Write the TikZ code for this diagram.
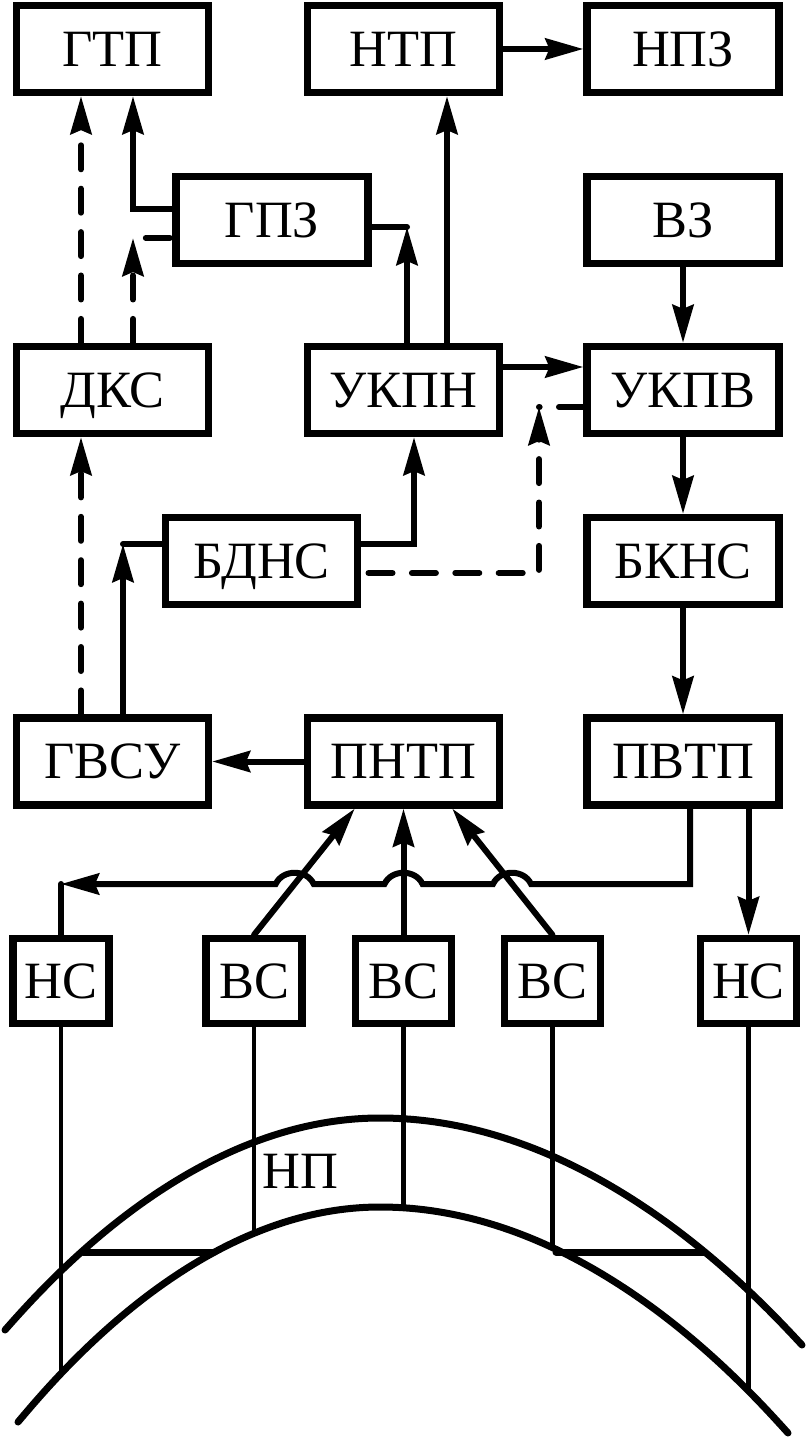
\documentclass[tikz,border=0pt]{standalone}
\usepackage{fontspec}
\setmainfont{Liberation Serif}
\newfontfamily\schemefont{Liberation Serif}
\usetikzlibrary{arrows.meta}

\tikzset{
    unitbox/.style={draw, line width=3.6pt, minimum width=96pt, minimum height=43.5pt,
        inner sep=0pt, text height=17.3pt, text depth=0pt,
        font=\schemefont\fontsize{26.2pt}{30pt}\selectfont},
    wellbox/.style={unitbox, minimum width=48pt, minimum height=42.5pt},
    flow/.style={line width=3pt, line cap=round, ->},
    link/.style={line width=3pt, line cap=round},
    gas/.style={dash pattern=on 12pt off 9.7pt},
    layer/.style={line width=3.5pt, line cap=round},
    bore/.style={line width=2.25pt}
}

\begin{document}
\begin{tikzpicture}[x=0.5pt,y=-0.5pt,>={Stealth[length=19pt,width=10.5pt,inset=2pt]}]
        \useasboundingbox (0,0) rectangle (806,1438);

        \node [unitbox] (gtp) at (112.5,49) {ГТП};
        \node [unitbox] (ntp) at (403.5,49) {НТП};
        \node [unitbox] (npz) at (683,49) {НПЗ};
        \node [unitbox] (gpz) at (272,220) {ГПЗ};
        \node [unitbox] (vz) at (683,220) {ВЗ};
        \node [unitbox] (dks) at (112.5,390) {ДКС};
        \node [unitbox] (ukpn) at (403.5,390) {УКПН};
        \node [unitbox] (ukpv) at (683,390) {УКПВ};
        \node [unitbox] (bdns) at (261.5,561) {БДНС};
        \node [unitbox] (bkns) at (683,561) {БКНС};
        \node [unitbox] (gvsu) at (112.5,761.5) {ГВСУ};
        \node [unitbox] (pntp) at (403.5,761.5) {ПНТП};
        \node [unitbox] (pvtp) at (683,761.5) {ПВТП};

        \node [wellbox] (ns1) at (61,981) {НС};
        \node [wellbox] (vs1) at (254,981) {ВС};
        \node [wellbox] (vs2) at (403.5,981) {ВС};
        \node [wellbox] (vs3) at (552.5,981) {ВС};
        \node [wellbox] (ns2) at (748.5,981) {НС};

        \coordinate (bgtp) at (133,209);
        \coordinate (bgpz) at (407,227);
        \coordinate (bdks) at (133,238);
        \coordinate (xgas) at (81,600);
        \coordinate (xntp) at (447,200);
        \coordinate (yukpv) at (540,367);
        \coordinate (bukpn) at (414,544);
        \coordinate (bbdns) at (123,544);
        \coordinate (gas1) at (539,573);
        \coordinate (gas2) at (539,407);
        \coordinate (bpvtp) at (690,884);
        \coordinate (bns) at (61,884);

        % oil and water
        \draw [flow] (ntp) -- (npz);
        \draw [flow] (ukpn.north -| xntp) -- (ntp.south -| xntp);
        \draw [flow] (ukpn.north -| bgpz) -- (bgpz);
        \draw [link] (bgpz) -- (gpz.east |- bgpz);
        \draw [flow] (gpz.west |- bgtp) -- (bgtp) -- (gtp.south -| bgtp);
        \draw [flow] (vz) -- (ukpv);
        \draw [flow] (ukpn.east |- yukpv) -- (ukpv.west |- yukpv);
        \draw [flow] (ukpv) -- (bkns);
        \draw [flow] (bkns) -- (pvtp);
        \draw [flow] (bdns.east |- bukpn) -- (bukpn) -- (ukpn.south -| bukpn);
        \draw [flow] (gvsu.north -| bbdns) -- (bbdns);
        \draw [link] (bbdns) -- (bdns.west |- bbdns);
        \draw [flow] (pntp) -- (gvsu);
        \draw [flow] (vs1.north) -- (pntp.224);
        \draw [flow] (vs2) -- (pntp);
        \draw [flow] (vs3.north) -- (pntp.316);
        \draw [flow] (pvtp.south -| ns2) -- (ns2);
        \draw [flow] (pvtp.south -| bpvtp) -- (bpvtp)
            -- (531,884) .. controls (524,869) and (500,869) .. (493,884)
            -- (422.5,884) .. controls (415.5,869) and (391.5,869) .. (384.5,884)
            -- (313.7,884) .. controls (306.7,869) and (282.7,869) .. (275.7,884)
            -- (bns);
        \draw [link] (bns) -- (ns1);

        % gas
        \draw [flow,gas] (dks.north -| xgas) -- (gtp.south -| xgas);
        \draw [flow,gas] (dks.north -| bdks) -- (bdks);
        \draw [link,gas,dash phase=15.3pt] (bdks) -- (gpz.west |- bdks);
        \draw [flow,gas] (gvsu.north -| xgas) -- (dks.south -| xgas);
        \draw [flow,gas,dash phase=18pt] (bdns.east |- gas1) -- (gas1) -- (gas2);
        \draw [link,gas,dash phase=11.7pt] (gas2) -- (ukpv.west |- gas2);

        % reservoir
        \draw [layer] (5,1330) parabola bend (380,1118) (802,1345);
        \draw [layer] (18,1422) parabola bend (380,1207) (788,1433);
        \draw [layer] (83,1252) -- (214,1252);
        \draw [layer] (556,1252) -- (704,1252);
        \draw [bore] (ns1.south) -- +(0,347);
        \draw [bore] (vs1.south) -- +(0,206);
        \draw [bore] (vs2.south) -- +(0,181);
        \draw [bore] (vs3.south) -- +(0,220);
        \draw [bore] (ns2.south) -- +(0,364);
        \node [anchor=base west, inner sep=0pt, font=\schemefont\fontsize{26.2pt}{30pt}\selectfont]
            (np) at (262,1188) {НП};
\end{tikzpicture}
\end{document}
